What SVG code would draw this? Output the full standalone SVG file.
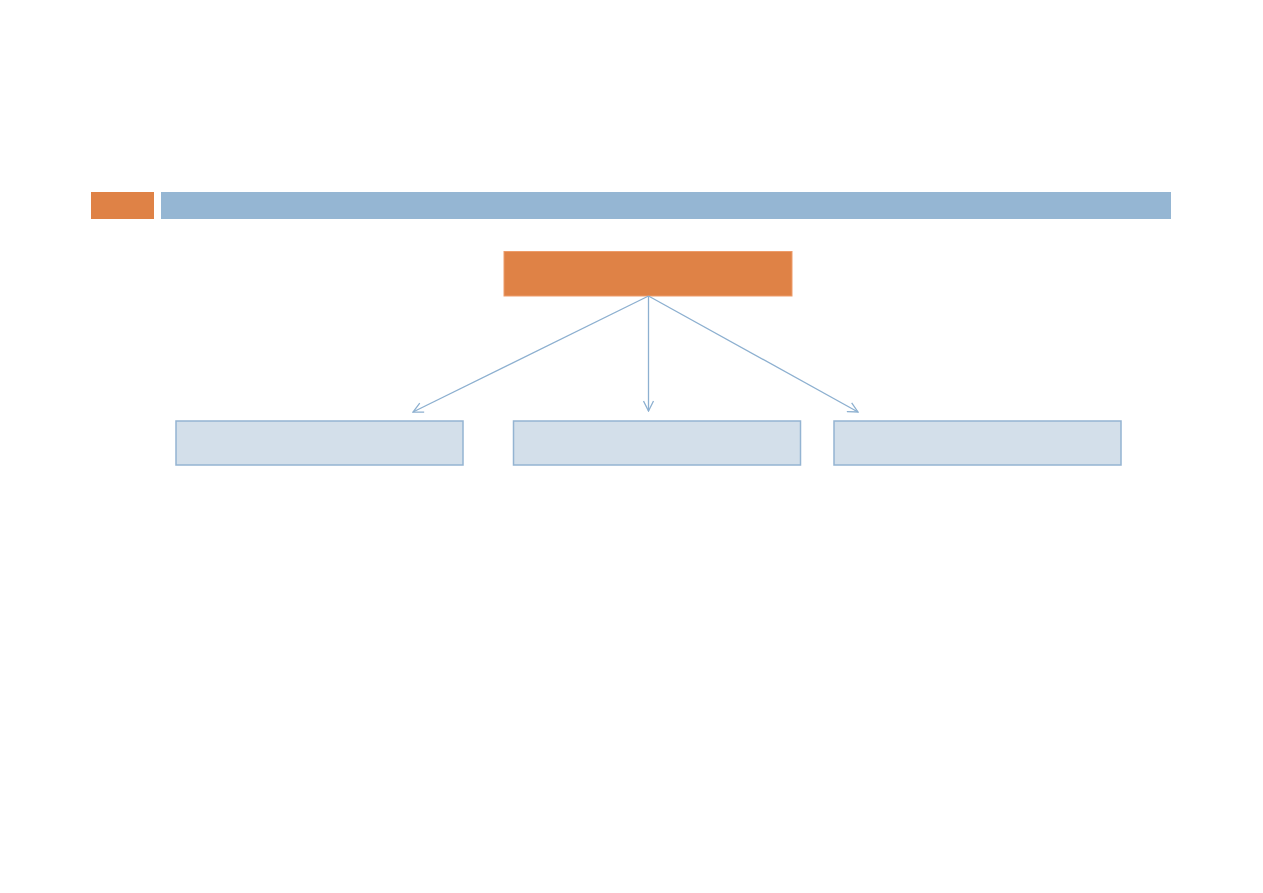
<svg xmlns="http://www.w3.org/2000/svg" width="1263" height="893" viewBox="0 0 1263 893">
<style>
.hdr-o{fill:#df8246}
.hdr-b{fill:#95b6d3}
.top{fill:#df8246;stroke:#ee9c6a;stroke-width:1}
.box{fill:#d3dfea;stroke:#94b4d2;stroke-width:1.5}
.conn{stroke:#8db0d0;stroke-width:1.3;fill:none}
</style>
<defs>
<marker id="arr" viewBox="0 0 12 12" refX="11" refY="6" markerWidth="12" markerHeight="12" markerUnits="userSpaceOnUse" orient="auto">
<path d="M1,1 L11,6 L1,11" fill="none" stroke="#8db0d0" stroke-width="1.3"/>
</marker>
</defs>
<rect width="1263" height="893" fill="#ffffff"/>
<g id="header">
<rect class="hdr-o" x="91" y="192" width="63" height="27"/>
<rect class="hdr-b" x="161" y="192" width="1010" height="27"/>
</g>
<g id="node-top">
<rect class="top" x="504" y="251.5" width="288" height="44.5"/>
</g>
<g id="node-left">
<rect class="box" x="176" y="421" width="287" height="44"/>
</g>
<g id="node-mid">
<rect class="box" x="513.5" y="421" width="287" height="44"/>
</g>
<g id="node-right">
<rect class="box" x="834" y="421" width="287" height="44"/>
</g>
<g id="connectors">
<line class="conn" x1="648.5" y1="296" x2="413" y2="412" marker-end="url(#arr)"/>
<line class="conn" x1="648.5" y1="296" x2="648.5" y2="411" marker-end="url(#arr)"/>
<line class="conn" x1="648.5" y1="296" x2="858" y2="412" marker-end="url(#arr)"/>
</g>
</svg>
